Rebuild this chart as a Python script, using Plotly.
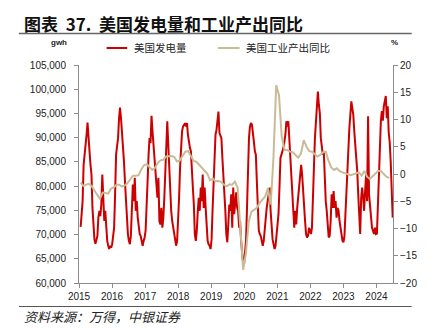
import plotly.graph_objects as go

# ---------------- data ----------------
years = list(range(2015, 2025))
tick_labels = [str(y) for y in years]

series_names = ["美国发电量", "美国工业产出同比"]

# US weekly-ish power generation (thousand GWh)
gen_start = 2015.05
gen_step = 0.02978
gen_gwh_k = [
    71.6, 75.2, 76.9, 84.4, 86.5, 87.2, 90.6, 93.1, 88.6, 87.2,
    84.4, 82.4, 75.5, 71.4, 69.0, 68.1, 69.0, 69.7, 73.5, 74.9,
    73.8, 76.2, 82.4, 77.6, 72.8, 74.9, 70.8, 68.7, 67.7, 67.0,
    67.7, 67.3, 68.0, 69.4, 71.4, 78.3, 86.5, 88.2, 89.9, 94.0,
    96.2, 94.0, 91.3, 87.2, 85.1, 81.0, 76.9, 72.8, 70.1, 68.7,
    68.0, 69.7, 74.2, 80.3, 76.9, 81.7, 74.9, 76.9, 73.5, 71.4,
    70.1, 69.7, 68.7, 67.7, 68.7, 69.4, 70.8, 74.9, 81.0, 86.5,
    89.9, 88.9, 94.5, 91.3, 88.6, 87.2, 83.1, 80.3, 77.6, 81.7,
    72.8, 72.1, 75.5, 71.4, 73.5, 77.6, 83.8, 89.2, 93.4, 88.6,
    83.1, 78.3, 74.9, 72.8, 71.4, 70.1, 68.7, 67.7, 68.7, 72.1,
    77.6, 83.8, 88.6, 91.3, 92.3, 92.7, 93.0, 92.3, 93.0, 90.6,
    88.6, 87.9, 87.2, 84.4, 79.7, 76.2, 70.1, 68.7, 70.8, 74.9,
    77.6, 74.9, 79.7, 76.9, 82.4, 75.5, 79.7, 75.5, 71.4, 68.7,
    68.0, 67.7, 67.0, 69.0, 74.9, 81.0, 86.5, 90.6, 91.6, 94.0,
    95.4, 91.0, 90.3, 89.9, 85.8, 82.4, 80.3, 74.9, 70.1, 68.4,
    72.1, 76.2, 74.9, 78.3, 71.4, 79.7, 74.2, 76.9, 78.7, 75.5,
    74.9, 71.4, 72.8, 68.7, 66.0, 64.2, 63.9, 66.0, 68.7, 75.5,
    84.4, 89.9, 92.3, 93.0, 92.7, 91.3, 89.2, 87.2, 86.5, 81.0,
    76.2, 70.8, 70.1, 69.7, 68.7, 67.7, 68.7, 71.4, 74.2, 75.5,
    76.9, 78.3, 79.7, 74.9, 70.8, 69.0, 68.0, 67.0, 67.7, 69.7,
    70.8, 74.2, 79.7, 85.8, 86.5, 87.2, 87.9, 89.2, 90.6, 93.4,
    92.3, 93.4, 89.9, 85.1, 83.1, 79.0, 74.9, 71.4, 74.9, 72.1,
    75.5, 77.6, 81.0, 81.7, 84.4, 82.4, 78.3, 75.5, 72.8, 70.1,
    69.4, 69.7, 71.4, 70.8, 70.1, 71.4, 76.2, 83.8, 89.9, 92.7,
    96.1, 99.5, 96.8, 95.0, 89.9, 87.9, 86.5, 87.2, 81.0, 76.9,
    74.9, 70.8, 69.4, 69.7, 72.8, 78.3, 75.5, 79.0, 75.5, 76.9,
    73.5, 75.5, 74.9, 72.8, 71.4, 69.7, 68.7, 68.4, 69.7, 74.2,
    79.7, 85.1, 88.6, 92.0, 94.7, 97.5, 96.1, 94.7, 91.3, 88.6,
    86.5, 83.1, 78.3, 74.2, 70.1, 77.6, 79.7, 77.6, 74.9, 79.0,
    82.4, 76.9, 94.4, 78.3, 75.5, 73.5, 71.4, 70.8, 70.1, 71.4,
    70.1,
    70.2, 76.0, 86.0, 92.0, 93.5, 95.5, 93.5, 96.5, 97.5, 98.6,
    94.0, 96.5, 91.0, 89.0, 85.0, 78.0, 73.5,
]

# US industrial production YoY (%), monthly
ip_start = 2015.05
ip_step = 1 / 12
ip_yoy = [
    -1.6, -2.2, -1.95, -1.8, -2.2, -3.1, -3.85, -4.5, -3.4, -3.5,
    -3.6, -2.7, -2.45, -1.95, -1.95, -2.3, -2.1, -1.65, -1.05, -0.3,
    -0.3, -0.25, 0.85, 1.6, 1.8, 1.3, 0.75, 1.15, 2.0, 2.5,
    2.6, 3.2, 3.25, 3.3, 3.1, 2.3, 2.5, 3.3, 4.1, 4.2,
    3.35, 2.4, 2.25, 1.65, 1.05, 0.45, 0.05, -1.15, -0.85, -1.35,
    -1.3, -1.45, -1.95, -2.25, -1.9, -1.95, -1.4, -2.5, -10.0, -17.6,
    -14.5, -8.8, -6.9, -6.6, -6.2, -5.3, -4.7, -4.1, -2.6, -5.6,
    3.0, 16.3, 14.5, 6.85, 4.4, 4.4, 4.1, 4.0, 3.5, 3.0,
    3.8, 6.2, 5.0, 4.2, 4.1, 3.6, 3.2, 3.5, 4.0, 4.1,
    2.4, 1.2, 0.75, 1.05, 0.55, 0.3, 0.1, -0.05, -0.2, -0.05,
    0.2, 0.3, -0.3, 0.55, -0.5, -0.9, -0.4, 0.1, 0.55, 0.55,
    0.1, -0.5, -0.7,
]

gen_x = [gen_start + i * gen_step for i in range(len(gen_gwh_k))]
gen_gwh = [v * 1000 for v in gen_gwh_k]
ip_x = [ip_start + i * ip_step for i in range(len(ip_yoy))]

# ---------------- figure ----------------
W, H = 429, 331
L, R, T, B = 79, 31, 65, 48
PW, PH = W - L - R, H - T - B


def px(xp):
    return (xp - L) / PW


def py(yp):
    return (H - B - yp) / PH


RED = "#CC0000"
TAN = "#C8BC96"
AX = "#8C8C8C"
TICKFONT = dict(family="Liberation Sans, Arial, sans-serif", size=10, color="#222222")
CJK = "Noto Sans CJK SC"

fig = go.Figure()
fig.add_trace(go.Scatter(x=gen_x, y=gen_gwh, mode="lines", name=series_names[0],
                         line=dict(color=RED, width=2), yaxis="y", showlegend=False))
fig.add_trace(go.Scatter(x=ip_x, y=ip_yoy, mode="lines", name=series_names[1],
                         line=dict(color=TAN, width=2), yaxis="y2", showlegend=False))

axis_common = dict(showgrid=False, zeroline=False, showline=True, linecolor=AX, linewidth=1,
                   ticks="outside", ticklen=4, tickcolor=AX, tickwidth=1, tickfont=TICKFONT)

fig.update_layout(
    width=W, height=H,
    margin=dict(l=L, r=R, t=T, b=B, pad=0),
    paper_bgcolor="white", plot_bgcolor="white",
    xaxis=dict(range=[2015, 2024.5], tickvals=years, ticktext=tick_labels, **axis_common),
    yaxis=dict(range=[60000, 105000], dtick=5000, tickformat=",", ticklabelstandoff=6, **axis_common),
    yaxis2=dict(range=[-20, 20], dtick=5, overlaying="y", side="right", **axis_common),
)

shapes = []
annotations = []

# title + rules
annotations.append(dict(text="图表  37.  美国发电量和工业产出同比", x=px(21), y=py(23), xref="paper", yref="paper",
                        xanchor="left", yanchor="middle", showarrow=False,
                        font=dict(family=CJK, size=17, color="#111111", weight=700)))
shapes.append(dict(type="line", xref="paper", yref="paper", x0=px(18), x1=px(417), y0=py(33.5), y1=py(33.5),
                   line=dict(color="#666666", width=1.5)))
shapes.append(dict(type="line", xref="paper", yref="paper", x0=px(18), x1=px(417), y0=py(306.5), y1=py(306.5),
                   line=dict(color="#555555", width=1.2)))
annotations.append(dict(text="资料来源：万得，中银证券", x=px(21), y=py(316), xref="paper", yref="paper",
                        xanchor="left", yanchor="middle", showarrow=False,
                        font=dict(family=CJK, size=13, color="#222222", style="italic")))

# unit labels
annotations.append(dict(text="gwh", x=px(59), y=py(43), xref="paper", yref="paper", xanchor="center",
                        yanchor="middle", showarrow=False,
                        font=dict(family="Liberation Sans, Arial", size=8, color="#222222", weight=700)))
annotations.append(dict(text="%", x=px(400), y=py(42), xref="paper", yref="paper", xanchor="center",
                        yanchor="middle", showarrow=False,
                        font=dict(family="Liberation Sans, Arial", size=8, color="#222222", weight=700)))

# manual legend
for (x0, x1, tx), name, col in zip([(107, 128, 133), (220, 242, 247)], series_names, [RED, TAN]):
    shapes.append(dict(type="line", xref="paper", yref="paper", x0=px(x0), x1=px(x1), y0=py(48), y1=py(48),
                       line=dict(color=col, width=2)))
    annotations.append(dict(text=name, x=px(tx), y=py(48), xref="paper", yref="paper", xanchor="left",
                            yanchor="middle", showarrow=False,
                            font=dict(family=CJK, size=10.5, color="#222222")))

fig.update_layout(shapes=shapes, annotations=annotations)
fig.write_html("out.html")
